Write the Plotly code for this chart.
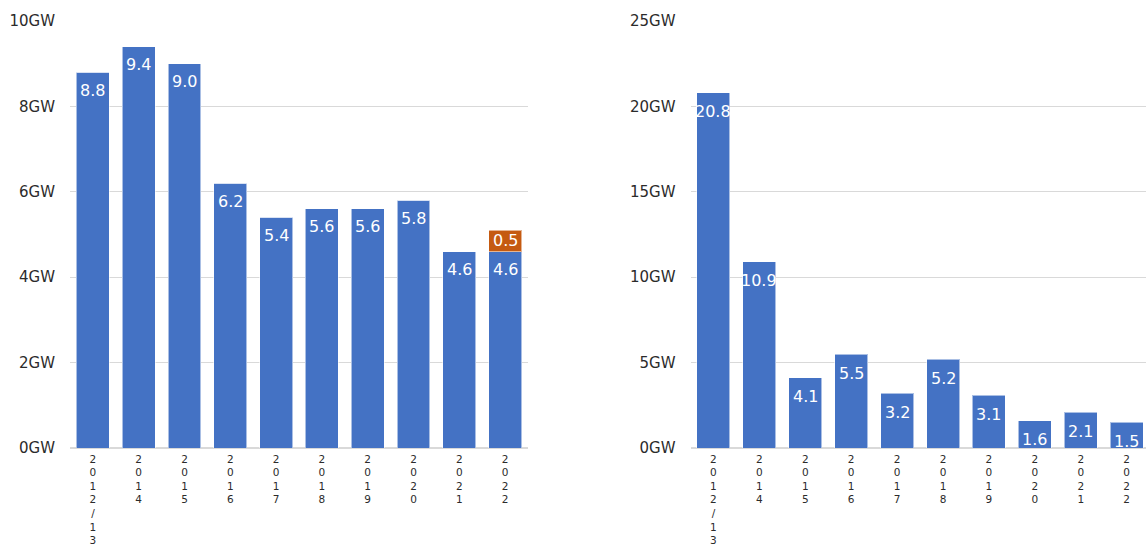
import plotly.graph_objects as go

categories = ["2012/13", "2014", "2015", "2016", "2017", "2018", "2019", "2020", "2021", "2022"]
left_blue = [8.8, 9.4, 9.0, 6.2, 5.4, 5.6, 5.6, 5.8, 4.6, 4.6]
left_orange = [0, 0, 0, 0, 0, 0, 0, 0, 0, 0.5]
right_blue = [20.8, 10.9, 4.1, 5.5, 3.2, 5.2, 3.1, 1.6, 2.1, 1.5]
left_ticks = [0, 2, 4, 6, 8, 10]
right_ticks = [0, 5, 10, 15, 20, 25]
tick_suffix = "GW"

BLUE = "#4472C4"
ORANGE = "#C55A11"
FONT = "DejaVu Sans"
TXT = "#2b2b2b"
GRID = "#D9D9D9"

# vertical (one character per line) category labels
vertical_labels = ["<br>".join(c) for c in categories]

fig = go.Figure()
edge = dict(color="rgba(255,255,255,0.55)", width=1)
fig.add_trace(go.Bar(x=categories, y=left_blue, marker=dict(color=BLUE, line=edge),
                     xaxis="x", yaxis="y", showlegend=False, hoverinfo="x+y"))
fig.add_trace(go.Bar(x=categories, y=left_orange, marker=dict(color=ORANGE, line=edge),
                     xaxis="x", yaxis="y", showlegend=False, hoverinfo="x+y"))
fig.add_trace(go.Bar(x=categories, y=right_blue, marker=dict(color=BLUE, line=edge),
                     xaxis="x2", yaxis="y2", showlegend=False, hoverinfo="x+y"))

annotations = []
lab_font = dict(family=FONT, size=16, color="white")
for i, v in enumerate(left_blue):
    annotations.append(dict(x=i, y=v, xref="x", yref="y", text=f"{v:.1f}", showarrow=False,
                            yshift=-18, font=lab_font))
for i, (b, o) in enumerate(zip(left_blue, left_orange)):
    if o > 0:
        annotations.append(dict(x=i, y=b + o / 2, xref="x", yref="y", text=f"{o:.1f}",
                                showarrow=False, font=lab_font))
for i, v in enumerate(right_blue):
    annotations.append(dict(x=i, y=v, xref="x2", yref="y2", text=f"{v:.1f}", showarrow=False,
                            yshift=-19, font=lab_font))

axis_common = dict(showgrid=False, showticklabels=True, ticks="", showline=False,
                   zeroline=False, fixedrange=True, type="category", tickangle=0,
                   tickmode="array", tickvals=categories, ticktext=vertical_labels,
                   automargin=False, ticklabelstandoff=3,
                   tickfont=dict(family=FONT, size=10.5, color=TXT))
yaxis_common = dict(showgrid=True, gridcolor=GRID, gridwidth=1, zeroline=True,
                    zerolinecolor=GRID, zerolinewidth=2, automargin=False,
                    tickfont=dict(family=FONT, size=15, color=TXT), ticks="",
                    showline=False, fixedrange=True, tickmode="array")

fig.update_layout(
    width=1146, height=545,
    margin=dict(l=0, r=0, t=21, b=97),
    paper_bgcolor="white", plot_bgcolor="white",
    barmode="stack", bargap=0.28,
    xaxis=dict(domain=[70 / 1146, 528 / 1146], range=[-0.5, 9.5], **axis_common),
    xaxis2=dict(domain=[690.5 / 1146, 1.0], range=[-0.5, 9.42], **axis_common),
    yaxis=dict(anchor="x", range=[0, 10], tickvals=left_ticks,
               ticktext=[f"{t}{tick_suffix}" for t in left_ticks], ticklabelstandoff=14, **yaxis_common),
    yaxis2=dict(anchor="x2", range=[0, 25], tickvals=right_ticks,
                ticktext=[f"{t}{tick_suffix}" for t in right_ticks], ticklabelstandoff=14, **yaxis_common),
    annotations=annotations,
)

fig.write_html("out.html")
